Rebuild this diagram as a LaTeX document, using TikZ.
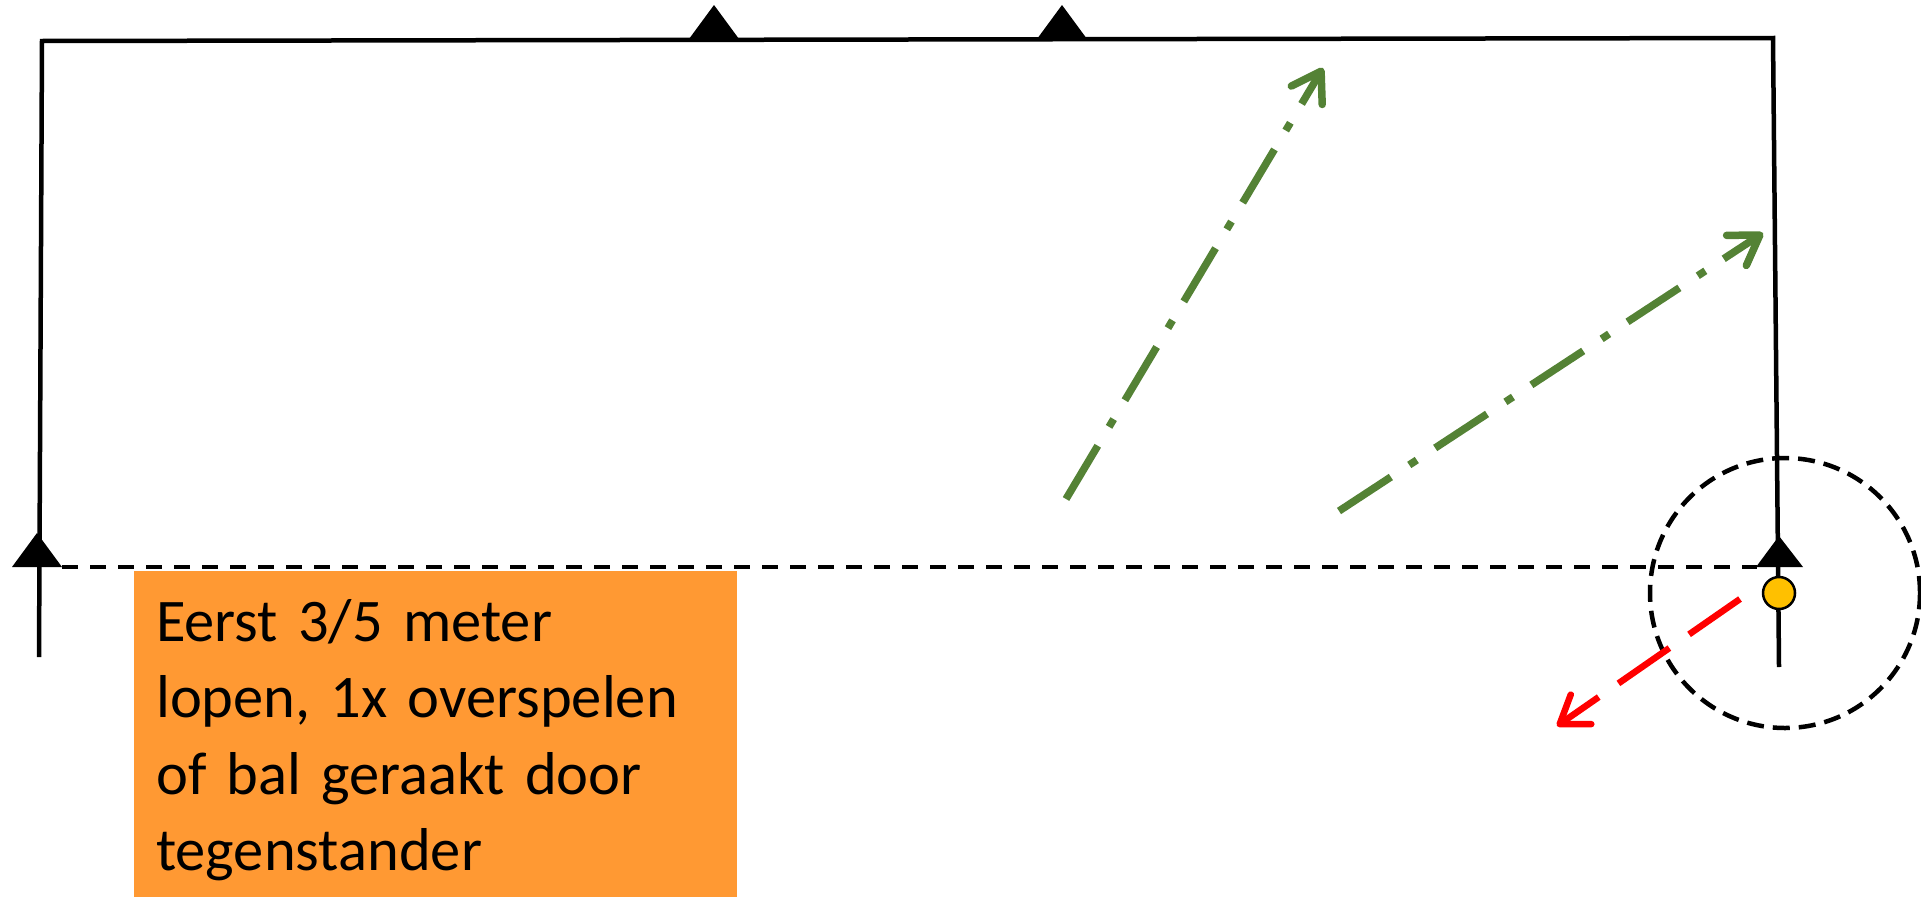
\documentclass[tikz,border=0pt]{standalone}
\usepackage{fontspec}
\setmainfont{Carlito}
\usetikzlibrary{arrows.meta,calc}
\definecolor{passgreen}{RGB}{84,130,53}
\definecolor{noteorange}{RGB}{255,153,51}
\definecolor{ballyellow}{RGB}{255,192,0}
\begin{document}
\begin{tikzpicture}[x=1pt,y=-1pt,
  fieldline/.style={line width=4.5pt},
  startline/.style={line width=4.2pt, dash pattern=on 16pt off 12pt},
  cone/.style={fill=black},
  pass/.style={passgreen, line width=7.5pt, dash pattern=on 62pt off 22pt on 9pt off 22pt,
    -{Straight Barb[round,length=28pt,width=36pt]}},
  dribble/.style={red, line width=6.5pt, dash pattern=on 62pt off 24pt,
    -{Straight Barb[round,length=26pt,width=36pt]}},
  zone/.style={circle, draw=black, line width=4.5pt, dash pattern=on 17pt off 9pt,
    minimum size=270pt, inner sep=0pt},
  ball/.style={circle, draw=black, line width=2.5pt, fill=ballyellow,
    minimum size=32pt, inner sep=0pt},
  notebox/.style={fill=noteorange, inner sep=0pt, minimum width=603pt, minimum height=326pt},
  notetext/.style={inner sep=0pt, text width=570pt, align=left,
    font=\fontsize{60.5pt}{76.5pt}\selectfont}
]
\useasboundingbox (0,0) rectangle (1921,897);

% corners of the playing area
\coordinate (bl) at (39,657);
\coordinate (tl) at (42,41);
\coordinate (tr) at (1773,38);
\coordinate (br) at (1779,667);

% cones: base centres
\coordinate (c1) at (714,39);
\coordinate (c2) at (1062,39);
\coordinate (cL) at (37,567);
\coordinate (cR) at (1779,567);

% orange note
\node[notebox, anchor=north west] (note) at (134,571) {};
\node[notetext, anchor=north west] (text) at (156,587.5)
  {\strut Eerst 3/5 meter\\ lopen, 1x overspelen\\ of bal geraakt door\\ tegenstander};

% field outline
\draw[fieldline] (bl) -- (tl) -- (tr) -- (br);

% start line between the bottom cones
\draw[startline] ($(cL)+(25,0)$) -- ($(cR)+(-22,0)$);

% dashed zone around the ball
\node[zone] (area) at (1785,593) {};

% cones
\foreach \c in {c1,c2,cL}
  \fill[cone] ($(\c)+(-25,0)$) -- ($(\c)+(0,-34)$) -- ($(\c)+(25,0)$) -- cycle;
\fill[cone] ($(cR)+(-23,0)$) -- ($(cR)+(0,-31)$) -- ($(cR)+(24,0)$) -- cycle;

% ball
\node[ball] (bal) at (1779,593) {};

% passes
\coordinate (p1s) at (1066,499);
\coordinate (p1e) at (1323,68);
\coordinate (p2s) at (1339,511);
\coordinate (p2e) at (1763,233);
\draw[pass] (p1s) -- (p1e);
\draw[pass] (p2s) -- (p2e);

% dribble
\coordinate (d1e) at (1557,726);
\draw[dribble] ($(bal)+(-39,6)$) -- (d1e);
\end{tikzpicture}
\end{document}
